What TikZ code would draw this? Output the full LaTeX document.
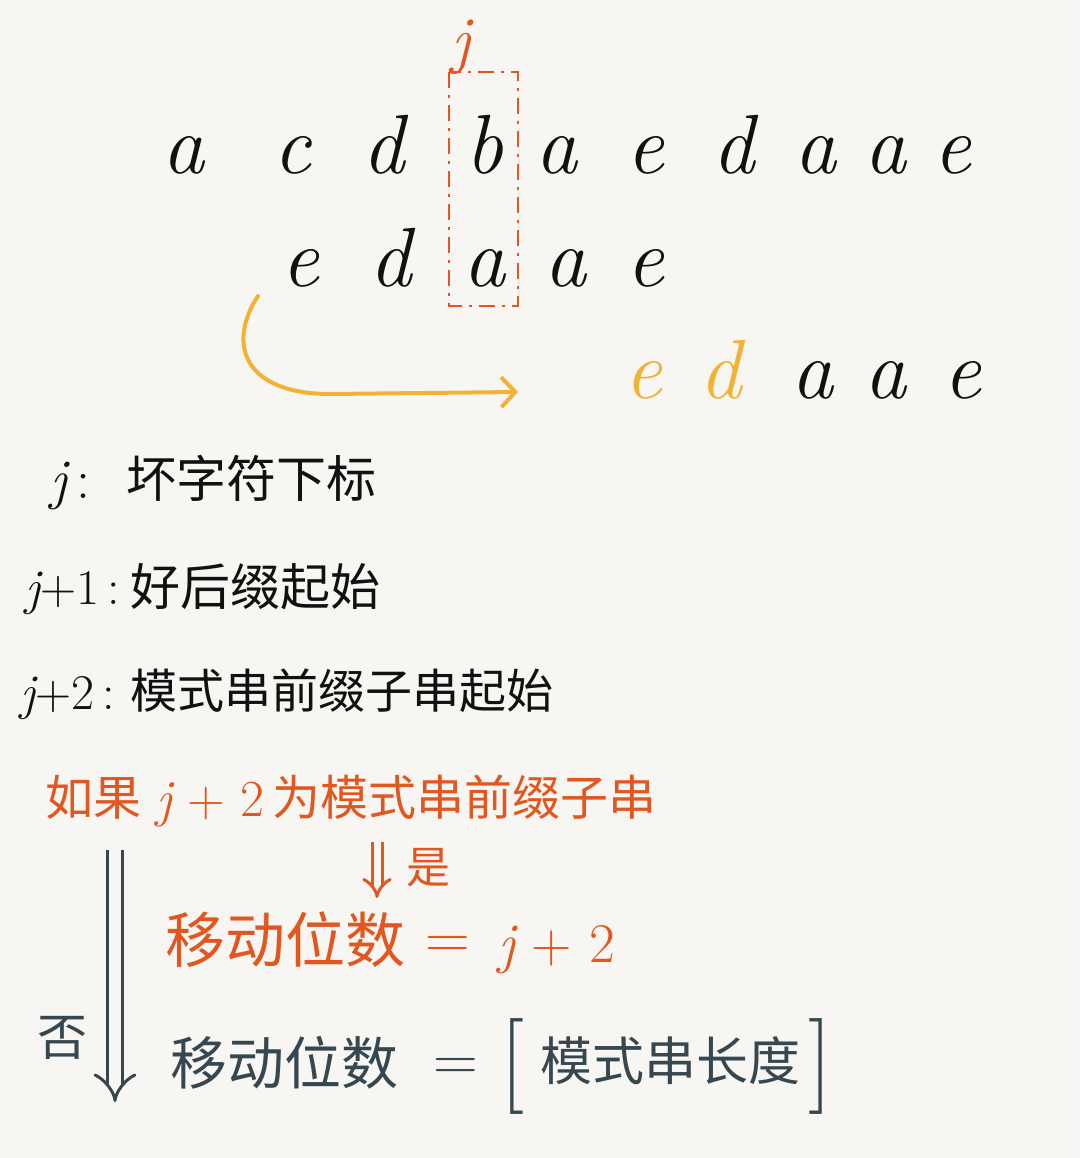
\documentclass[tikz,border=0pt]{standalone}
\usepackage{fontspec}
\newfontfamily\cjk{Noto Sans CJK SC}
\usetikzlibrary{arrows.meta}
\definecolor{paper}{HTML}{F7F6F3}
\definecolor{redor}{HTML}{E2561F}
\definecolor{amber}{HTML}{F2B236}
\definecolor{slate}{HTML}{37474F}
\definecolor{ink}{HTML}{111111}
\newcommand{\fs}[1]{\fontsize{#1}{#1}\selectfont}
\newcommand{\jtwo}{\itshape j\upshape{} + 2}
\tikzset{
  letter/.style={font=\fs{84}\itshape, text=ink, anchor=base, inner sep=0pt},
  note/.style={font=\fs{52}, text=ink, anchor=base west, inner sep=0pt},
  dashbox/.style={draw=redor, line width=2.5pt, dash pattern=on 16pt off 7pt on 3pt off 7pt},
  movearrow/.style={draw=amber, line width=4pt, line cap=round, -{Straight Barb[length=14pt,width=30pt,line width=4pt]}},
  dblarrow/.style={double=paper, line width=3pt, -{Implies}},
}
\begin{document}
\begin{tikzpicture}[x=1pt,y=-1pt]
  \fill[paper] (0,0) rectangle (1080,1158);
  \useasboundingbox (0,0) rectangle (1080,1158);
  % text string
  \foreach \x/\c [count=\i] in {183/a,292/c,383/d,484/b,556/a,645/e,733/d,815/a,885/a,952/e}
    \node[letter] (t\i) at (\x,174) {\c};
  % pattern string
  \foreach \x/\c [count=\i] in {300/e,390/d,484/a,565/a,645/e}
    \node[letter] (p\i) at (\x,286) {\c};
  % pattern after the move
  \node[letter, text=amber] (m1) at (643,398) {e};
  \node[letter, text=amber] (m2) at (720,398) {d};
  \foreach \x/\c [count=\i from 3] in {812/a,885/a,962/e}
    \node[letter] (m\i) at (\x,398) {\c};
  % bad character j
  \node[letter, text=redor, font=\fs{64}\itshape] (jlab) at (461,62) {j};
  \draw[dashbox] (449,72) rectangle (518,306);
  \coordinate (mvstart) at (258,296);
  \coordinate (mvend) at (518,392);
  \draw[movearrow] (mvstart) .. controls (226,345) and (245,394) .. (330,394) -- (mvend);
  % notes
  \node[note, font=\fs{56}] (n1j) at (50,498) {\itshape j\upshape\,:};
  \node[note, font=\fs{50}\cjk] (n1) at (126,497) {坏字符下标};
  \node[note, font=\fs{50}] (n2j) at (25,604) {\itshape j\upshape +1\,:};
  \node[note, font=\fs{50}\cjk] (n2) at (130,605) {好后缀起始};
  \node[note, font=\fs{50}] (n3j) at (20,709) {\itshape j\upshape +2\,:};
  \node[note, font=\fs{47}\cjk] (n3) at (130,708) {模式串前缀子串起始};
  % condition
  \node[note, text=redor, font=\fs{48}\cjk] (c1) at (45,815) {如果};
  \node[note, text=redor, font=\fs{52}] (c2) at (156,816) {\jtwo};
  \node[note, text=redor, font=\fs{48}\cjk] (c3) at (272,815) {为模式串前缀子串};
  % yes
  \node[note, text=redor, font=\fs{60}\cjk] (y1) at (165,962) {移动位数};
  \node[note, text=redor, font=\fs{62}] (y2) at (425,958) {=};
  \node[note, text=redor, font=\fs{56}] (y3) at (498,962) {\jtwo};
  \coordinate (yesa) at (377,842);
  \coordinate (yesb) at (377,898);
  \draw[dblarrow, draw=redor, double distance=7pt] (yesa) -- (yesb);
  \node[text=redor, font=\fs{44}\cjk] (yes) at (428,868) {是};
  % no
  \node[note, text=slate, font=\fs{57}\cjk] (z1) at (170,1084) {移动位数};
  \node[note, text=slate, font=\fs{62}] (z2) at (433,1080) {=};
  \node[note, text=slate, font=\fs{96}] (z3) at (500,1090) {[};
  \node[note, text=slate, font=\fs{52}\cjk] (z4) at (540,1080) {模式串长度};
  \node[note, text=slate, font=\fs{96}] (z5) at (808,1090) {]};
  \coordinate (noa) at (115,850);
  \coordinate (nob) at (115,1102);
  \draw[dblarrow, draw=slate, double distance=12pt] (noa) -- (nob);
  \node[text=slate, font=\fs{50}\cjk] (no) at (62,1038) {否};
\end{tikzpicture}
\end{document}
